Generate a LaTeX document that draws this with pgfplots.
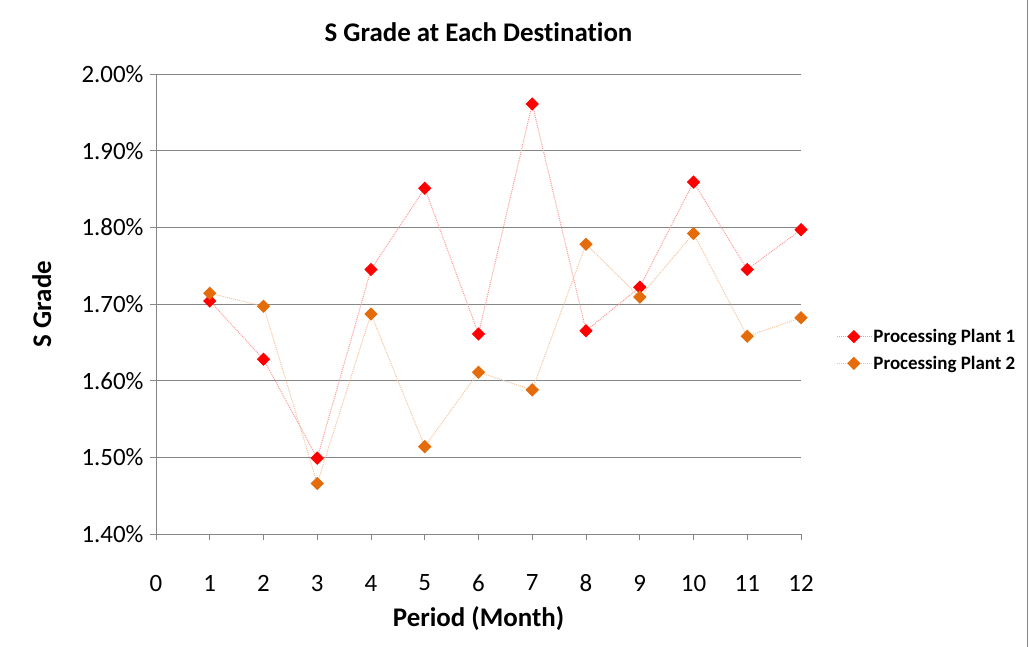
\documentclass[border=0pt]{standalone}
\usepackage{pgfplots}
\pgfplotsset{compat=1.18}
\usepackage{fontspec}
\setmainfont{Carlito}[Ligatures=NoCommon]
\definecolor{gridgray}{RGB}{134,134,134}
\definecolor{pp1}{RGB}{255,0,0}
\definecolor{pp2}{RGB}{228,108,10}
\pgfplotstableread{
x y
1 1.704
2 1.628
3 1.499
4 1.745
5 1.851
6 1.661
7 1.961
8 1.665
9 1.722
10 1.859
11 1.745
12 1.797
}\plantone
\pgfplotstableread{
x y
1 1.714
2 1.697
3 1.466
4 1.687
5 1.514
6 1.611
7 1.588
8 1.778
9 1.709
10 1.792
11 1.658
12 1.682
}\planttwo
\begin{document}
\begin{tikzpicture}
\path[use as bounding box] (0,0) rectangle (1029bp,-647bp);
\draw[gridgray,line width=1bp] (1027.5bp,0) -- (1027.5bp,-647bp);
\begin{axis}[
  at={(156bp,-534bp)}, anchor=south west,
  width=645bp, height=460bp, scale only axis,
  xmin=0, xmax=12, ymin=1.40, ymax=2.00,
  xtick={0,...,12},
  ytick={1.40,1.50,...,2.00},
  yticklabel={\pgfmathprintnumber[fixed,fixed zerofill,precision=2]{\tick}\%},
  /pgf/number format/assume math mode=true,
  ymajorgrids, grid style={gridgray,line width=1bp},
  axis x line*=bottom, axis y line*=left,
  axis line style={gridgray,line width=1bp,-},
  tick style={gridgray,line width=1bp},
  tick align=outside, major tick length=6bp,
  tick label style={font=\fontsize{25}{29}\selectfont},
  xticklabel style={anchor=center,yshift=-43bp},
  yticklabel style={anchor=east,xshift=-3bp},
  title={\bfseries\fontsize{27}{32}\selectfont S Grade at Each Destination},
  title style={at={(axis description cs:0.5,1.077)},anchor=center},
  xlabel={\bfseries\fontsize{27}{32}\selectfont Period (Month)},
  ylabel={\bfseries\fontsize{27}{32}\selectfont S Grade},
  xlabel style={at={(axis description cs:0.5,-0.184)},anchor=center},
  ylabel style={at={(axis description cs:-0.177,0.5)},anchor=center},
  legend style={at={(axis description cs:1.05,0.4)},anchor=west,draw=none,fill=none,
    font=\bfseries\fontsize{19}{22}\selectfont,row sep=8bp},
  legend cell align=left,
  legend image code/.code={
    \draw[mark repeat=2,mark phase=2,#1] plot coordinates {(0bp,0bp) (17bp,0bp) (34bp,0bp)};},
  clip=false,
]
\addplot[pp1!40,densely dotted,line width=1bp,mark=square*,mark size=4.2bp,
  mark options={solid,pp1,fill=pp1,rotate=45}] table[x=x,y=y]{\plantone};
\addlegendentry{Processing Plant 1}
\addplot[pp2!40,densely dotted,line width=1bp,mark=square*,mark size=4.2bp,
  mark options={solid,pp2,fill=pp2,rotate=45}] table[x=x,y=y]{\planttwo};
\addlegendentry{Processing Plant 2}
\end{axis}
\end{tikzpicture}
\end{document}
